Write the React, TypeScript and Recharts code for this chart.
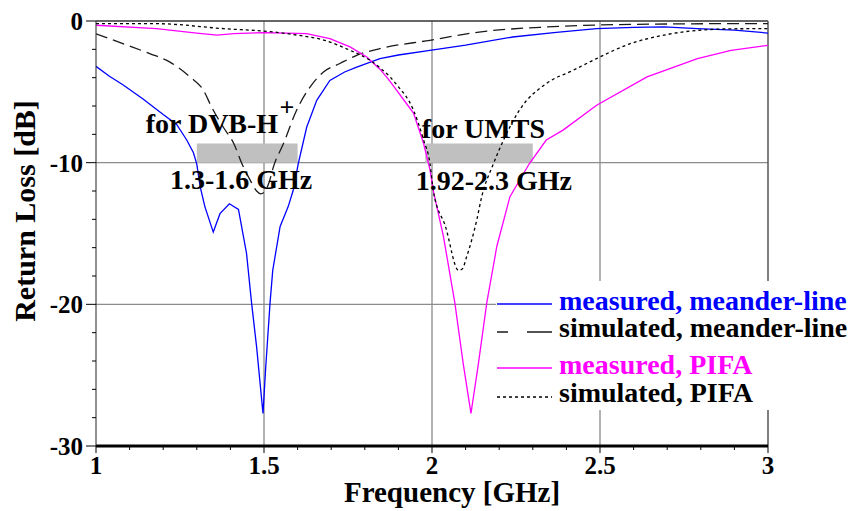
import {
  LineChart,
  Line,
  XAxis,
  YAxis,
  CartesianGrid,
  ReferenceArea,
  ReferenceDot,
  ReferenceLine,
  Legend,
  Label,
} from "recharts";

const FONT = "'Liberation Serif', 'Times New Roman', serif";

// axis ticks
const xTicks = [1, 1.1, 1.2, 1.3, 1.4, 1.5, 1.6, 1.7, 1.8, 1.9, 2, 2.1, 2.2, 2.3, 2.4, 2.5, 2.6, 2.7, 2.8, 2.9, 3];
const xMajor = [1, 1.5, 2, 2.5, 3];
const yTicks = [0, -2, -4, -6, -8, -10, -12, -14, -16, -18, -20, -22, -24, -26, -28, -30];
const yMajor = [0, -10, -20, -30];
const gridX = [1.5, 2, 2.5];
const gridY = [-10, -20];

// measured, meander-line
const measMeanderFreq = [
  1.0, 1.04, 1.08, 1.14, 1.2, 1.24, 1.27, 1.29, 1.3, 1.31, 1.324, 1.349, 1.369, 1.397, 1.424,
  1.448, 1.463, 1.478, 1.497, 1.505, 1.518, 1.526, 1.548, 1.572, 1.587, 1.602, 1.627, 1.657,
  1.696, 1.74, 1.776, 1.845, 1.9, 1.994, 2.1, 2.24, 2.37, 2.49, 2.6, 2.69, 2.79, 2.9, 3.0,
];
const measMeanderDb = [
  -3.2, -3.9, -4.5, -5.5, -6.6, -7.3, -8.4, -9.3, -10.1, -11.7, -13.1, -14.9, -13.6, -12.9, -13.3,
  -16.4, -19.9, -23.0, -27.7, -24.5, -19.9, -17.6, -14.5, -13.1, -11.95, -10.06, -7.5, -5.6,
  -4.2, -3.6, -3.25, -2.65, -2.4, -2.07, -1.7, -1.13, -0.8, -0.54, -0.45, -0.42, -0.54, -0.65, -0.85,
];

// simulated, meander-line
const simMeanderFreq = [
  1.0, 1.08, 1.16, 1.22, 1.28, 1.32, 1.344, 1.379, 1.41, 1.434, 1.458, 1.478, 1.49, 1.5, 1.515,
  1.528, 1.558, 1.597, 1.637, 1.677, 1.726, 1.776, 1.845, 1.994, 2.14, 2.34, 2.54, 2.84, 3.0,
];
const simMeanderDb = [
  -0.9, -1.6, -2.3, -2.9, -3.95, -4.9, -6.07, -7.5, -8.65, -10.06, -11.2, -12.0, -12.2, -12.1, -11.4,
  -10.3, -8.65, -6.3, -4.66, -3.6, -3.0, -2.42, -1.95, -1.36, -0.78, -0.42, -0.26, -0.19, -0.18,
];

// measured, PIFA
const measPifaFreq = [
  1.0, 1.18, 1.3, 1.36, 1.41, 1.5, 1.627, 1.696, 1.756, 1.806, 1.845, 1.87, 1.895, 1.92, 1.945,
  1.975, 1.994, 2.004, 2.034, 2.068, 2.093, 2.116, 2.138, 2.163, 2.193, 2.232, 2.29, 2.34, 2.39,
  2.49, 2.64, 2.79, 2.89, 3.0,
];
const measPifaDb = [
  -0.3, -0.54, -0.85, -1.0, -0.89, -0.82, -0.89, -1.24, -1.83, -2.54, -3.4, -4.1, -4.9, -5.7, -6.5,
  -8.65, -10.5, -12.0, -15.2, -19.9, -24.2, -27.7, -24.2, -19.9, -15.9, -12.4, -10.06, -8.4, -7.7,
  -5.95, -3.95, -2.65, -2.07, -1.72,
];

// simulated, PIFA
const simPifaFreq = [
  1.0, 1.18, 1.38, 1.53, 1.6, 1.68, 1.756, 1.815, 1.845, 1.875, 1.895, 1.945, 1.975, 1.994, 2.004,
  2.04, 2.079, 2.09, 2.103, 2.133, 2.148, 2.183, 2.213, 2.26, 2.34, 2.42, 2.49, 2.59, 2.69, 2.79,
  2.9, 3.0,
];
const simPifaDb = [
  -0.19, -0.19, -0.54, -0.78, -1.0, -1.36, -2.07, -2.77, -3.3, -3.95, -4.5, -6.3, -8.4, -10.06, -12.0,
  -14.5, -17.6, -17.5, -16.65, -14.07, -12.4, -10.06, -8.4, -6.3, -4.42, -3.48, -2.65, -1.6, -1.0, -0.66,
  -0.55, -0.54,
];

const toPoints = (f: number[], db: number[]) => f.map((v, i) => ({ f: v, db: db[i] }));

const series = [
  { name: "measured, meander-line", color: "#0000ff", text: "#0000ff", dash: undefined, legendDash: undefined, type: "linear", data: toPoints(measMeanderFreq, measMeanderDb) },
  { name: "simulated, meander-line", color: "#1a1a1a", text: "#000", dash: "12 6", legendDash: "11 19 26", type: "monotone", data: toPoints(simMeanderFreq, simMeanderDb) },
  { name: "measured, PIFA", color: "#ff00ff", text: "#ff00ff", dash: undefined, legendDash: undefined, type: "linear", data: toPoints(measPifaFreq, measPifaDb) },
  { name: "simulated, PIFA", color: "#000", text: "#000", dash: "3 3", legendDash: "3 3", type: "monotone", data: toPoints(simPifaFreq, simPifaDb) },
];

function FreqTick(props: any) {
  const { x, y, payload } = props;
  const major = xMajor.includes(payload.value);
  return (
    <g>
      <line x1={x} x2={x} y1={y} y2={y + (major ? 7 : 4)} stroke="#000" />
      {major && (
        <text x={x} y={y + 10} dy="0.71em" textAnchor="middle" fontFamily={FONT} fontWeight="bold" fontSize={25} fill="#000">
          {payload.value}
        </text>
      )}
    </g>
  );
}

function DbTick(props: any) {
  const { x, y, payload } = props;
  const major = yMajor.includes(payload.value);
  return (
    <g>
      <line x1={x - (major ? 10 : 4)} x2={x} y1={y} y2={y} stroke="#000" />
      {major && (
        <text x={x - 13} y={y} dy="0.36em" textAnchor="end" fontFamily={FONT} fontWeight="bold" fontSize={25} fill="#000">
          {payload.value}
        </text>
      )}
    </g>
  );
}

function XTitle(props: any) {
  const vb = props.viewBox;
  return (
    <text x={vb.x + vb.width / 2 + 20} y={vb.y + 56} textAnchor="middle" fontFamily={FONT} fontWeight="bold" fontSize={29} fill="#000">
      Frequency [GHz]
    </text>
  );
}

function YTitle(props: any) {
  const vb = props.viewBox;
  const x = vb.x + 35;
  const y = vb.y + 190;
  return (
    <text x={x} y={y} transform={`rotate(-90, ${x}, ${y})`} textAnchor="middle" fontFamily={FONT} fontWeight="bold" fontSize={30} fill="#000">
      Return Loss [dB]
    </text>
  );
}

function AnnoText(props: any) {
  const vb = props.viewBox || {};
  const cx = (vb.x ?? 0) + (vb.width ?? 0) / 2;
  const cy = (vb.y ?? 0) + (vb.height ?? 0) / 2;
  return (
    <text x={cx} y={cy} textAnchor="middle" fontFamily={FONT} fontWeight="bold" fontSize={props.size ?? 28} fill="#000">
      {props.text}
    </text>
  );
}

const legendLineY = [23, 51, 87, 116];
const legendTextY = [29, 56, 93, 121];

function LegendBox() {
  return (
    <svg width={358} height={129} style={{ display: "block" }}>
      {series.map((s, i) => (
        <g key={s.name}>
          <line x1={1} x2={56} y1={legendLineY[i]} y2={legendLineY[i]} stroke={s.color} strokeWidth={1.3} strokeDasharray={s.legendDash} />
          <text x={63} y={legendTextY[i]} fontFamily={FONT} fontWeight="bold" fontSize={28} fill={s.text}>
            {s.name}
          </text>
        </g>
      ))}
    </svg>
  );
}

export default function App() {
  return (
    <div style={{ position: "absolute", left: 0, top: 0, background: "#fff" }}>
      <LineChart width={854} height={511} margin={{ top: 21, right: 86, bottom: 0, left: 0 }}>
        <CartesianGrid horizontalValues={gridY} verticalValues={gridX} stroke="#8c8c8c" strokeWidth={1.3} />
        <XAxis
          dataKey="f"
          type="number"
          domain={[1, 3]}
          allowDataOverflow
          ticks={xTicks}
          interval={0}
          tickSize={0}
          tickMargin={0}
          tickLine={false}
          tick={<FreqTick />}
          height={65}
          axisLine={{ stroke: "#000", strokeWidth: 3 }}
        >
          <Label content={<XTitle />} />
        </XAxis>
        <YAxis
          type="number"
          domain={[-30, 0]}
          allowDataOverflow
          ticks={yTicks}
          interval={0}
          tickSize={0}
          tickMargin={0}
          tickLine={false}
          tick={<DbTick />}
          width={96}
          axisLine={{ stroke: "#222", strokeWidth: 1 }}
        >
          <Label content={<YTitle />} />
        </YAxis>
        <ReferenceLine y={0} stroke="#333" strokeWidth={1.5} />
        <ReferenceLine x={3} stroke="#555" strokeWidth={1.5} />
        {series.map((s) => (
          <Line
            key={s.name}
            data={s.data}
            dataKey="db"
            name={s.name}
            type={s.type as any}
            stroke={s.color}
            strokeWidth={1.3}
            strokeDasharray={s.dash}
            dot={false}
            activeDot={false}
            isAnimationActive={false}
          />
        ))}
        <ReferenceArea x1={1.3} x2={1.6} y1={-10} y2={-8.65} fill="#c0c0c0" fillOpacity={1} stroke="none" />
        <ReferenceArea x1={1.98} x2={2.3} y1={-10} y2={-8.65} fill="#c0c0c0" fillOpacity={1} stroke="none" />
        <ReferenceDot x={1.345} y={-7.93} r={0} stroke="none" fill="none" label={<AnnoText text="for DVB-H" />} />
        <ReferenceDot x={1.568} y={-6.7} r={0} stroke="none" fill="none" label={<AnnoText text="+" size={26} />} />
        <ReferenceDot x={1.432} y={-11.88} r={0} stroke="none" fill="none" label={<AnnoText text="1.3-1.6 GHz" />} />
        <ReferenceDot x={2.153} y={-8.26} r={0} stroke="none" fill="none" label={<AnnoText text="for UMTS" />} />
        <ReferenceDot x={2.184} y={-11.95} r={0} stroke="none" fill="none" label={<AnnoText text="1.92-2.3 GHz" />} />
        <Legend
          layout="vertical"
          align="center"
          verticalAlign="middle"
          content={<LegendBox />}
          wrapperStyle={{ left: 496, top: 281, width: 358, height: 129, background: "#fff", margin: 0, padding: 0 }}
        />
      </LineChart>
    </div>
  );
}
